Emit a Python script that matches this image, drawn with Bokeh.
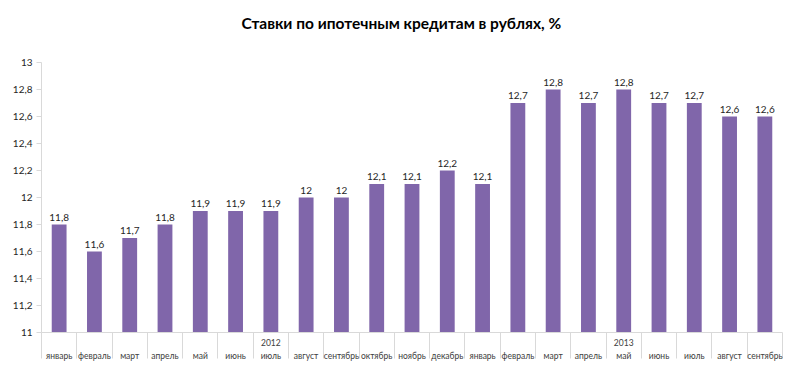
from bokeh.plotting import figure
from bokeh.models import (ColumnDataSource, Range1d, FixedTicker, CustomJSTickFormatter, LinearAxis)
from bokeh.core.properties import value
from bokeh.embed import file_html
from bokeh.resources import INLINE

months = ["январь", "февраль", "март", "апрель", "май", "июнь", "июль", "август",
          "сентябрь", "октябрь", "ноябрь", "декабрь",
          "январь", "февраль", "март", "апрель", "май", "июнь", "июль", "август", "сентябрь"]
rates = [11.8, 11.6, 11.7, 11.8, 11.9, 11.9, 11.9, 12.0, 12.0, 12.1, 12.1, 12.2,
         12.1, 12.7, 12.8, 12.7, 12.8, 12.7, 12.7, 12.6, 12.6]
years = ["2012", "2013"]
year_pos = [6, 16]
y_ticks = [11.0, 11.2, 11.4, 11.6, 11.8, 12.0, 12.2, 12.4, 12.6, 12.8, 13.0]
title = "Ставки по ипотечным кредитам в рублях, %"

idx = list(range(len(months)))
labels = [("%.1f" % v).replace(".", ",").replace(",0", "") for v in rates]
src = ColumnDataSource(dict(x=idx, top=rates, lab=labels))

p = figure(width=784, height=363, output_backend="svg", toolbar_location=None,
           x_range=Range1d(-0.5, len(months) - 0.5), y_range=Range1d(11, 13),
           x_axis_location=None,
           min_border_left=41, min_border_right=2, min_border_top=62, min_border_bottom=30)
p.outline_line_color = None
p.xgrid.visible = False
p.ygrid.visible = False

p.title.text = title + "\n\u00a0"
p.title.text_font = "Lato"
p.title.text_font_size = "15.5px"
p.title.text_font_style = "bold"
p.title.text_color = "#000000"
p.title.align = "left"
p.title.offset = 200
p.title.vertical_align = "top"
p.title.standoff = 21

p.vbar(x="x", top="top", bottom=11, width=0.42, source=src,
       fill_color="#8066AA", line_color=None)
p.text(x="x", y="top", text="lab", source=src, y_offset=-4,
       text_align="center", text_baseline="bottom",
       text_font=value("Lato"), text_font_size="10px", text_color="#262626")

# y axis
ya = p.yaxis[0]
ya.ticker = FixedTicker(ticks=y_ticks, minor_ticks=[])
ya.formatter = CustomJSTickFormatter(code="""
    return tick.toFixed(1).replace('.', ',').replace(',0', '');
""")
ya.axis_line_color = "#D9D9D9"
ya.major_tick_line_color = "#D9D9D9"
ya.major_tick_out = 5
ya.major_tick_in = 0
ya.major_label_text_font = "Lato"
ya.major_label_text_font_size = "10px"
ya.major_label_text_color = "#262626"
ya.major_label_standoff = 4

# x axis, first level: years + category separators
xa_year = LinearAxis(ticker=FixedTicker(ticks=year_pos,
                                        minor_ticks=[i + 0.5 for i in range(-1, len(months))]))
xa_year.major_label_overrides = {p_: y for p_, y in zip(year_pos, years)}
xa_year.axis_line_color = "#D9D9D9"
xa_year.major_tick_line_color = None
xa_year.major_tick_out = 0
xa_year.major_tick_in = 0
xa_year.minor_tick_line_color = "#D9D9D9"
xa_year.minor_tick_out = 26
xa_year.minor_tick_in = 0
xa_year.major_label_text_font = "Lato"
xa_year.major_label_text_font_size = "8.5px"
xa_year.major_label_text_color = "#404040"
xa_year.major_label_standoff = -20
p.add_layout(xa_year, "below")

# x axis, second level: months
xa = LinearAxis(ticker=FixedTicker(ticks=idx, minor_ticks=[]))
xa.major_label_overrides = {i: m for i, m in enumerate(months)}
xa.axis_line_color = None
xa.major_tick_line_color = None
xa.major_tick_out = 0
xa.major_tick_in = 0
xa.minor_tick_line_color = None
xa.minor_tick_out = 0
xa.minor_tick_in = 0
xa.major_label_text_font = "Lato"
xa.major_label_text_font_size = "8.5px"
xa.major_label_text_color = "#404040"
xa.major_label_standoff = 2
p.add_layout(xa, "below")

open("out.html", "w").write(file_html(p, INLINE))
